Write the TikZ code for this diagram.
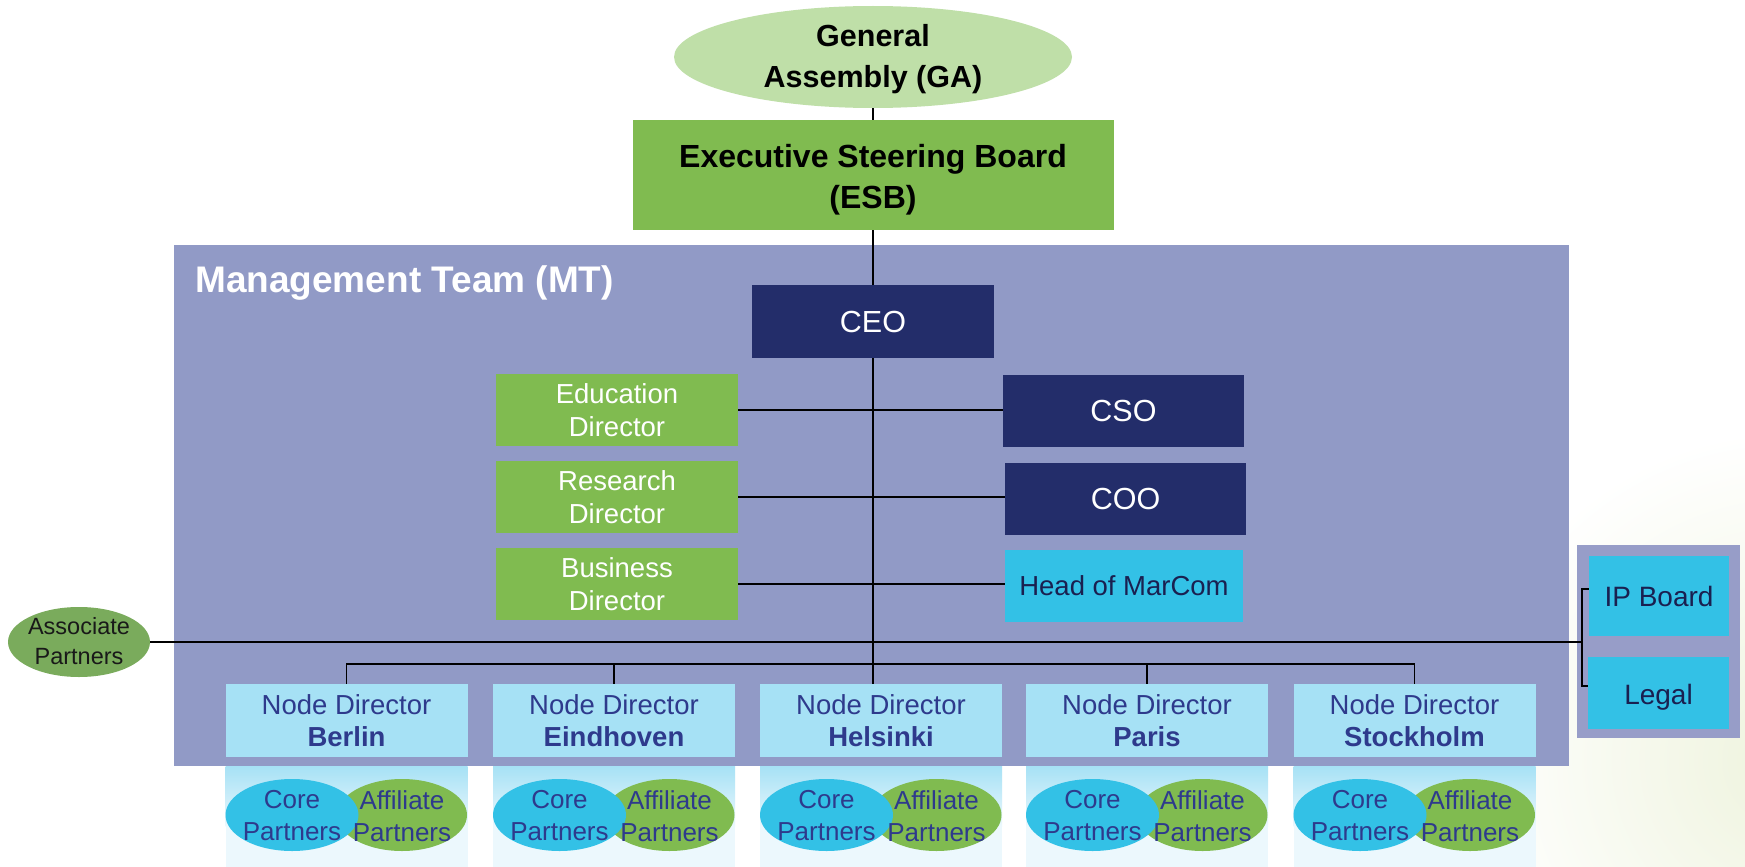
\documentclass[tikz,border=0pt]{standalone}
\usepackage{fontspec}
\setmainfont{Liberation Sans}
\usetikzlibrary{shapes.geometric}
\definecolor{mtbg}{HTML}{919AC6}
\definecolor{gagreen}{HTML}{BFDFA8}
\definecolor{esbgreen}{HTML}{80BB50}
\definecolor{navy}{HTML}{232D6A}
\definecolor{cyanbox}{HTML}{33C1E6}
\definecolor{nodeblue}{HTML}{A6E1F5}
\definecolor{nodetext}{HTML}{2E3A8C}
\definecolor{apgreen}{HTML}{7AAB5C}
\definecolor{ippanel}{HTML}{979DC8}
\definecolor{darktext}{HTML}{1A2050}
\definecolor{panelpale}{HTML}{ECF8FD}
\definecolor{bgpale}{HTML}{EEF3DD}
\newcommand{\fsz}[2]{\fontsize{#1}{#2}\selectfont}
\begin{document}
\begin{tikzpicture}[x=1pt,y=-1pt,
  conn/.style={draw=black, line width=1.8pt},
  box/.style={rectangle, inner sep=0pt, align=center},
  navybox/.style={box, fill=navy, text=white, font=\fsz{30.5}{35}, minimum width=242, minimum height=73},
  dirbox/.style={box, fill=esbgreen, text=white, font=\fsz{27.5}{33}, minimum width=242, minimum height=72},
  ndbox/.style={box, fill=nodeblue, text=nodetext, font=\fsz{27.5}{32}, minimum width=242, minimum height=73},
  cyanrect/.style={box, fill=cyanbox, text=darktext},
  ell/.style={ellipse, inner sep=0pt},
  ptext/.style={align=center, text=nodetext, font=\fsz{26}{32}, inner sep=0pt}
]
\useasboundingbox (0,0) rectangle (1745,867);
\fill[white] (0,0) rectangle (1745,867);
\begin{scope}
\clip (0,0) rectangle (1745,867);
\shade[inner color=bgpale, outer color=white] (1790,760) circle (330);
\end{scope}

% Management team panel
\fill[mtbg] (174,245) rectangle (1569,766);
\node[anchor=west, text=white, font=\fsz{37}{42}\bfseries, inner sep=0pt] (MTtitle) at (195,283) {Management Team (MT)};

% IP panel
\fill[ippanel] (1577,545) rectangle (1740,738);

% Top
\node[ell, fill=gagreen, minimum width=398, minimum height=102] (GA) at (873,57) {};
\node[align=center, font=\fsz{30.5}{41}\bfseries, inner sep=0pt] (GAtext) at (873,59) {General\\Assembly (GA)};
\node[box, fill=esbgreen, minimum width=481, minimum height=110] (ESB) at (873,175) {};
\node[align=center, font=\fsz{32}{41}\bfseries, inner sep=0pt] (ESBtext) at (873,180) {Executive Steering Board\\(ESB)};

\node[navybox] (CEO) at (873,321.5) {CEO};
\node[dirbox] (Edu) at (617,410) {Education\\Director};
\node[dirbox] (Res) at (617,497) {Research\\Director};
\node[dirbox] (Bus) at (617,584) {Business\\Director};
\node[navybox, minimum width=241, minimum height=72] (CSO) at (1123.5,411) {CSO};
\node[navybox, minimum width=241, minimum height=72] (COO) at (1125.5,499) {COO};
\node[cyanrect, font=\fsz{27.5}{31}, minimum width=238, minimum height=72] (MarCom) at (1124,586) {Head of MarCom};

% Associate partners
\node[ell, fill=apgreen, minimum width=142, minimum height=70] (AP) at (79,642) {};
\node[align=center, text=black!90, font=\fsz{23.5}{30}, inner sep=0pt] (APtext) at (79,641) {Associate\\Partners};

% IP Board / Legal
\node[cyanrect, font=\fsz{28}{32}, minimum width=140, minimum height=80] (IP) at (1659,596) {IP Board};
\node[cyanrect, font=\fsz{28}{32}, minimum width=141, minimum height=72] (Legal) at (1658.5,693) {};
\node[text=darktext, font=\fsz{28}{32}, inner sep=0pt] (Legaltext) at (1658.5,697) {Legal};
\coordinate (brk) at (1582,642);

% Node directors and partners
\foreach \nm/\cx in {Berlin/346.5, Eindhoven/614, Helsinki/881, Paris/1147, Stockholm/1414.5}{
  \node[ndbox] (\nm) at (\cx,720.5) {Node Director\\\textbf{\nm}};
  \shade[top color=nodeblue, bottom color=panelpale] (\cx-121,766) rectangle (\cx+121,826);
  \fill[panelpale] (\cx-121,826) rectangle (\cx+121,867);
  \node[ell, fill=esbgreen, minimum width=130, minimum height=72] (\nm Aff) at (\cx+55.5,815) {};
  \node[ell, fill=cyanbox, minimum width=133, minimum height=72] (\nm Core) at (\cx-54.5,815) {};
  \node[ptext] at ([yshift=-1pt]\nm Core) {Core\\Partners};
  \node[ptext] at ([yshift=-1pt]\nm Aff) {Affiliate\\Partners};
}

% Connectors
\draw[conn] (GA.south) -- (ESB.north);
\draw[conn] (ESB.south) -- (CEO.north);
\draw[conn] (CEO.south) -- (CEO.south |- Helsinki.north);
\draw[conn] (Edu.east) -- (Edu.east -| CSO.west);
\draw[conn] (Res.east) -- (Res.east -| COO.west);
\draw[conn] (Bus.east) -- (Bus.east -| MarCom.west);
\draw[conn] (AP.east) -- (brk);
\draw[conn] ([yshift=7pt]IP.west) -| (brk) |- ([yshift=7pt]Legal.west);
\draw[conn] (Berlin.north) -- ++(0,-20) -| (Stockholm.north);
\draw[conn] (Eindhoven.north) -- ++(0,-20);
\draw[conn] (Paris.north) -- ++(0,-20);
\end{tikzpicture}
\end{document}
